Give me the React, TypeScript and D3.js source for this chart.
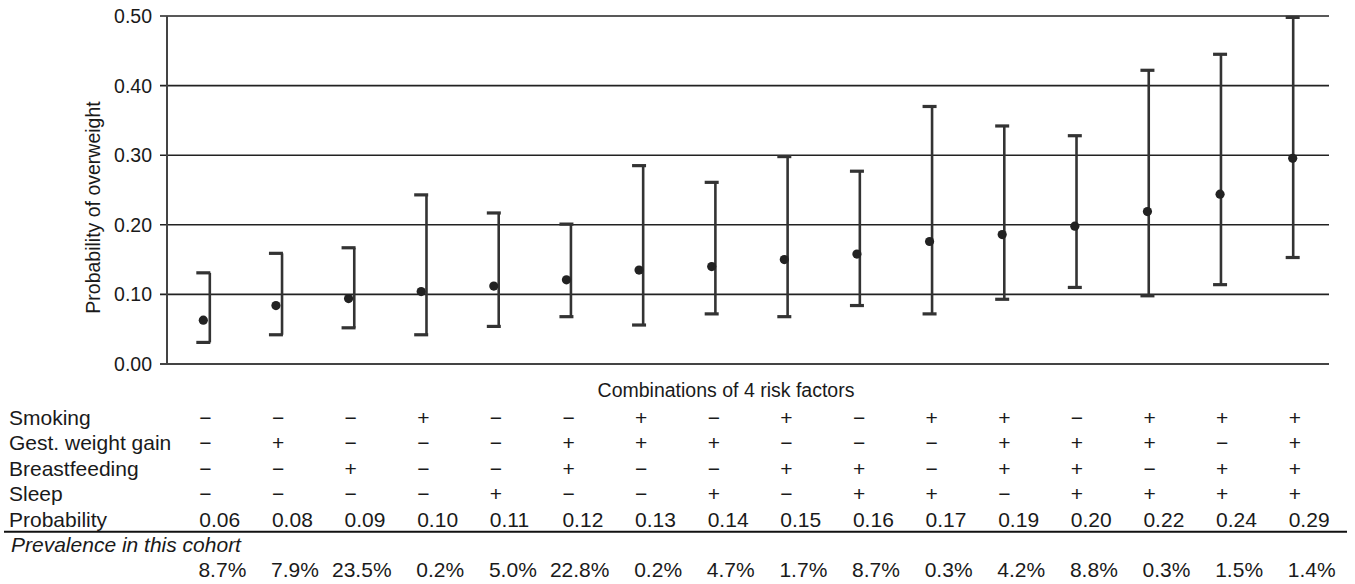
import React from "react";
import * as d3 from "d3";

const estimates = [0.063, 0.084, 0.094, 0.104, 0.112, 0.121, 0.135, 0.14, 0.15, 0.158, 0.176, 0.186, 0.198, 0.219, 0.244, 0.2955];
const lowerCI = [0.031, 0.042, 0.052, 0.042, 0.054, 0.068, 0.056, 0.072, 0.068, 0.084, 0.072, 0.093, 0.11, 0.098, 0.114, 0.153];
const upperCI = [0.131, 0.159, 0.167, 0.243, 0.217, 0.201, 0.285, 0.261, 0.298, 0.277, 0.37, 0.342, 0.328, 0.422, 0.445, 0.498];

const yTicks = [0, 0.1, 0.2, 0.3, 0.4, 0.5];

const factorNames = ["Smoking", "Gest. weight gain", "Breastfeeding", "Sleep"];
const smoking = "---+--+-+-++-+++";
const gestWeight = "-+---+++---+++-+";
const breastfeeding = "--+--+--++-++-++";
const sleep = "----+--+-++-++++";
const factorRows = [smoking, gestWeight, breastfeeding, sleep];

const probabilityLabels = ["0.06", "0.08", "0.09", "0.10", "0.11", "0.12", "0.13", "0.14", "0.15", "0.16", "0.17", "0.19", "0.20", "0.22", "0.24", "0.29"];
const prevalenceLabels = ["8.7%", "7.9%", "23.5%", "0.2%", "5.0%", "22.8%", "0.2%", "4.7%", "1.7%", "8.7%", "0.3%", "4.2%", "8.8%", "0.3%", "1.5%", "1.4%"];

const W = 1355;
const H = 584;
const plotLeft = 167;
const plotRight = 1329;
const plotTop = 16;
const plotBottom = 364;
const ink = "#333";
const textInk = "#1a1a1a";
const font = "'Liberation Sans', Arial, Helvetica, sans-serif";

export default function App() {
  const idx = estimates.map((_, i) => i);
  const x = d3.scaleBand<number>().domain(idx).range([plotLeft, plotRight]).padding(0);
  const y = d3.scaleLinear().domain([0, 0.5]).range([plotBottom, plotTop]);
  const cx = (i: number) => (x(i) as number) + x.bandwidth() / 2;
  const barOffset = (i: number) => 6.5 - 0.4 * i;
  const fmt = d3.format(".2f");

  const rowBase = 425;
  const rowStep = 25.4;

  return (
    <svg width={W} height={H} style={{ position: "absolute", left: 0, top: 0, background: "#fff" }} fontFamily={font}>
      {yTicks.map((t) => (
        <g key={t}>
          <line x1={plotLeft - 7} x2={plotRight} y1={y(t)} y2={y(t)} stroke={t === 0 ? "#444" : "#222"} strokeWidth={t === 0 ? 2 : 1.6} />
          <text x={152} y={y(t)} dy="0.36em" textAnchor="end" fontSize={19.5} fill={textInk}>
            {fmt(t)}
          </text>
        </g>
      ))}
      <line x1={plotLeft} x2={plotLeft} y1={plotTop} y2={plotBottom} stroke="#444" strokeWidth={2} />
      <text transform={`translate(100,207.5) rotate(-90)`} textAnchor="middle" fontSize={19.5} fill={textInk}>
        Probability of overweight
      </text>

      {idx.map((i) => {
        const c = cx(i);
        const bx = c + barOffset(i);
        return (
          <g key={i}>
            <line x1={bx} x2={bx} y1={y(upperCI[i])} y2={y(lowerCI[i])} stroke={ink} strokeWidth={2.6} />
            <line x1={c - 7} x2={c + 7} y1={y(upperCI[i])} y2={y(upperCI[i])} stroke={ink} strokeWidth={3.2} />
            <line x1={c - 7} x2={c + 7} y1={y(lowerCI[i])} y2={y(lowerCI[i])} stroke={ink} strokeWidth={3.2} />
            <circle cx={c} cy={y(estimates[i])} r={4.6} fill="#222" />
          </g>
        );
      })}

      <text x={726} y={396.7} textAnchor="middle" fontSize={19.5} fill={textInk}>
        Combinations of 4 risk factors
      </text>
      {factorNames.map((name, r) => (
        <g key={name}>
          <text x={9} y={rowBase + r * rowStep} fontSize={21} fill={textInk}>
            {name}
          </text>
          {idx.map((i) => (
            <text key={i} x={cx(i) - 4} y={rowBase + r * rowStep} fontSize={21} fill={textInk}>
              {factorRows[r][i] === "+" ? "+" : "\u2212"}
            </text>
          ))}
        </g>
      ))}
      <text x={9} y={rowBase + 4 * rowStep} fontSize={21} fill={textInk}>
        Probability
      </text>
      {idx.map((i) => (
        <text key={i} x={cx(i) - 4} y={rowBase + 4 * rowStep} fontSize={21} fill={textInk}>
          {probabilityLabels[i]}
        </text>
      ))}
      <line x1={4} x2={1347} y1={531.7} y2={531.7} stroke="#111" strokeWidth={2} />
      <text x={11} y={551.7} fontSize={21} fontStyle="italic" fill={textInk}>
        Prevalence in this cohort
      </text>
      {idx.map((i) => (
        <text key={i} x={cx(i) + 43} y={576.7} textAnchor="end" fontSize={21} fill={textInk}>
          {prevalenceLabels[i]}
        </text>
      ))}
    </svg>
  );
}
